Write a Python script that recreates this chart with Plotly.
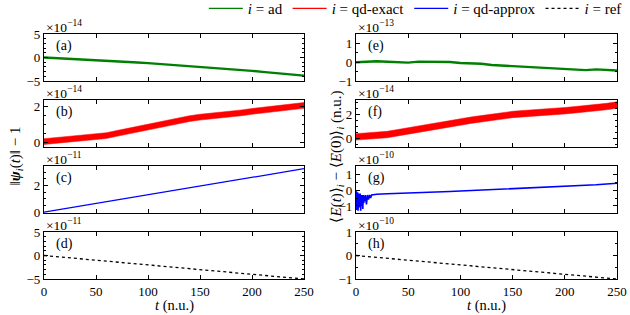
import plotly.graph_objects as go

# ---------------- data (values in units of the panel's x10^n factor) ----------------
t10 = [0, 10, 20, 30, 40, 50, 60, 70, 80, 90, 100, 110, 120, 130, 140, 150,
       160, 170, 180, 190, 200, 210, 220, 230, 240, 250]

# (a) norm error, i = ad  (x1e-14)
a_vals = [0.0, -0.1, -0.2, -0.3, -0.4, -0.5, -0.62, -0.75, -0.9, -1.05, -1.2,
          -1.35, -1.5, -1.65, -1.82, -2.0, -2.15, -2.32, -2.5, -2.68, -2.85,
          -3.05, -3.25, -3.45, -3.65, -3.85]
# (b) norm error, i = qd-exact (x1e-14): centre and noise half-width
b_vals = [0.05, 0.1, 0.15, 0.2, 0.25, 0.3, 0.38, 0.5, 0.62, 0.75, 0.88, 1.0,
          1.12, 1.22, 1.32, 1.4, 1.45, 1.5, 1.56, 1.64, 1.72, 1.78, 1.85, 1.9,
          1.97, 2.05]
b_half = 0.16
# (c) norm error, i = qd-approx (x1e-11)
c_t = [0, 250]
c_vals = [0.0, 3.25]
# (d) norm error, i = ref (x1e-11)
d_t = [0, 250]
d_vals = [0.0, -5.0]

# (e) energy error, i = ad (x1e-13)
e_vals = [0.0, 0.03, 0.05, 0.02, 0.0, -0.02, 0.03, 0.02, 0.0, 0.01, -0.04,
          -0.05, -0.08, -0.15, -0.18, -0.2, -0.24, -0.28, -0.3, -0.33, -0.35,
          -0.4, -0.42, -0.38, -0.42, -0.44]
# (f) energy error, i = qd-exact (x1e-14)
f_vals = [0.1, 0.15, 0.22, 0.3, 0.45, 0.6, 0.8, 0.95, 1.1, 1.25, 1.35, 1.5,
          1.62, 1.75, 1.88, 1.98, 2.05, 2.1, 2.15, 2.2, 2.3, 2.38, 2.45, 2.55,
          2.65, 2.78]
f_half = 0.27
# (g) energy error, i = qd-approx (x1e-10)
g_t = [0, 0.4, 0.8, 1.2, 1.6, 2.0, 2.4, 2.8, 3.2, 3.6, 4.0, 4.5, 5.0, 5.5,
       6.0, 6.5, 7.0, 7.5, 8.0, 8.5, 9.0, 10, 11, 12, 13, 14, 15, 20, 30, 40,
       50, 60, 70, 80, 90, 100, 110, 120, 130, 140, 150, 160, 170, 180, 190,
       200, 210, 220, 230, 240, 250]
g_vals = [0.0, -1.25, -0.1, -0.9, -0.15, -1.3, -0.2, -1.1, -0.25, -0.7, -0.2,
          -1.3, -0.3, -1.0, -0.3, -1.2, -0.3, -0.8, -0.35, -0.7, -0.3, -0.9,
          -0.3, -0.6, -0.3, -0.5, -0.3, -0.25, -0.22, -0.2, -0.2, -0.15, -0.12,
          -0.1, -0.08, -0.05, -0.02, 0.0, 0.03, 0.06, 0.1, 0.12, 0.15, 0.18,
          0.2, 0.25, 0.28, 0.3, 0.35, 0.4, 0.45]
# (h) energy error, i = ref (x1e-10)
h_t = [0, 250]
h_vals = [0.0, -1.0]

x_ticks = [0, 50, 100, 150, 200, 250]
legend_labels = ["<i>i</i> = ad", "<i>i</i> = qd-exact",
                 "<i>i</i> = qd-approx", "<i>i</i> = ref"]
panel_labels = ["(a)", "(b)", "(c)", "(d)", "(e)", "(f)", "(g)", "(h)"]
exponents = [-14, -14, -11, -11, -13, -14, -10, -10]

# ---------------- styling / layout ----------------
FONT = "Liberation Serif"
W, H = 630, 315
GREEN, RED, BLUE, BLACK = "#008000", "#ff0000", "#0000ff", "#000000"
col_px = [(44, 304), (356, 617)]
row_px = [(34, 81), (100, 147), (166, 213), (232, 279)]

# per panel: y range, major dtick, minor dtick
yspec = [
    ([-5, 5], 5, 1),
    ([-0.25, 2.35], 2, 0.5),
    ([-0.06, 3.45], 2, 0.5),
    ([-5, 5], 5, 1),
    ([-1, 1.5], 1, 0.5),
    ([-0.75, 3.2], 2, 0.5),
    ([-1.45, 1.55], 1, 0.5),
    ([-1, 1], 1, 0.5),
]

fig = go.Figure()
layout = {}
annotations = []
for k in range(8):
    col, row = divmod(k, 4)
    n = k + 1
    xs = "" if n == 1 else str(n)
    xd = [col_px[col][0] / W, col_px[col][1] / W]
    yd = [1 - row_px[row][1] / H, 1 - row_px[row][0] / H]
    yr, dt, mdt = yspec[k]
    layout["xaxis" + xs] = dict(
        domain=xd, anchor="y" + xs, range=[0, 250], tickvals=x_ticks,
        showticklabels=(row == 3), ticks="inside", ticklen=4, tickwidth=1,
        tickcolor="black", showline=True, linecolor="black", linewidth=1.2,
        mirror="allticks", showgrid=False, zeroline=False, automargin=False,
        tickfont=dict(family=FONT, size=13, color="black"),
    )
    layout["yaxis" + xs] = dict(
        domain=yd, anchor="x" + xs, range=yr, dtick=dt, tick0=0,
        ticks="inside", ticklen=4, tickwidth=1, tickcolor="black",
        showline=True, linecolor="black", linewidth=1.2, mirror="allticks",
        showgrid=False, zeroline=False, automargin=False,
        minor=dict(dtick=mdt, tick0=0, ticks="inside", ticklen=2,
                   tickcolor="black", showgrid=False),
        tickfont=dict(family=FONT, size=13, color="black"),
    )
    annotations.append(dict(
        xref="x" + xs + " domain", yref="y" + xs + " domain", x=0.04, y=0.95,
        xanchor="left", yanchor="top", text=panel_labels[k], showarrow=False,
        font=dict(family=FONT, size=14, color="black")))
    annotations.append(dict(
        xref="x" + xs + " domain", yref="y" + xs + " domain", x=0.0, y=1.0,
        xanchor="left", yanchor="bottom", yshift=-3,
        text="×10<sup>−%d</sup>" % abs(exponents[k]), showarrow=False,
        font=dict(family=FONT, size=13.5, color="black")))


def line(x, y, ax, color, width, dash="solid"):
    fig.add_trace(go.Scatter(x=x, y=y, xaxis="x" + ax, yaxis="y" + ax,
                             mode="lines", line=dict(color=color, width=width,
                                                     dash=dash),
                             showlegend=False, hoverinfo="skip"))


def band(x, centre, half, ax, color):
    hi = [v + half for v in centre]
    lo = [v - half for v in centre]
    fig.add_trace(go.Scatter(x=x, y=hi, xaxis="x" + ax, yaxis="y" + ax,
                             mode="lines", line=dict(color=color, width=0.5),
                             showlegend=False, hoverinfo="skip"))
    fig.add_trace(go.Scatter(x=x, y=lo, xaxis="x" + ax, yaxis="y" + ax,
                             mode="lines", line=dict(color=color, width=0.5),
                             fill="tonexty", fillcolor=color,
                             showlegend=False, hoverinfo="skip"))


# legend entries
for lab, colr, dash in zip(legend_labels, [GREEN, RED, BLUE, BLACK],
                           ["solid", "solid", "solid", "dot"]):
    fig.add_trace(go.Scatter(x=[None], y=[None], mode="lines", name=lab,
                             line=dict(color=colr, width=1.2, dash=dash)))

line(t10, a_vals, "", GREEN, 2.4)
band(t10, b_vals, b_half, "2", RED)
line(c_t, c_vals, "3", BLUE, 1.3)
line(d_t, d_vals, "4", BLACK, 1.3, "dot")
line(t10, e_vals, "5", GREEN, 2.4)
band(t10, f_vals, f_half, "6", RED)
line(g_t, g_vals, "7", BLUE, 1.6)
line(h_t, h_vals, "8", BLACK, 1.3, "dot")

# axis titles
annotations.append(dict(
    xref="paper", yref="paper", x=15 / W, y=1 - 156.5 / H, textangle=-90,
    xanchor="center", yanchor="middle",
    text="‖<b><i>ψ</i></b><sub><i>i</i></sub>(<i>t</i>)‖ − 1",
    showarrow=False, font=dict(family=FONT, size=15, color="black")))
annotations.append(dict(
    xref="paper", yref="paper", x=336 / W, y=1 - 156.5 / H, textangle=-90,
    xanchor="center", yanchor="middle",
    text="⟨<i>E</i>(<i>t</i>)⟩<sub><i>i</i></sub> − ⟨<i>E</i>(0)⟩<sub><i>i</i></sub> (n.u.)",
    showarrow=False, font=dict(family=FONT, size=15, color="black")))
for col in range(2):
    xc = (col_px[col][0] + col_px[col][1]) / 2 / W
    annotations.append(dict(
        xref="paper", yref="paper", x=xc, y=1 - 305.5 / H,
        xanchor="center", yanchor="middle", text="<i>t</i> (n.u.)",
        showarrow=False, font=dict(family=FONT, size=14.5, color="black")))

fig.update_layout(
    template="none",
    width=W, height=H, margin=dict(l=0, r=0, t=0, b=0, autoexpand=False),
    paper_bgcolor="white", plot_bgcolor="white",
    font=dict(family=FONT, size=13, color="black"),
    showlegend=True,
    legend=dict(orientation="h", x=0.995, xanchor="right", y=1.025,
                yanchor="top", bgcolor="rgba(0,0,0,0)", itemwidth=34,
                traceorder="normal",
                font=dict(family=FONT, size=15, color="black"),
                tracegroupgap=0),
    annotations=annotations,
    **layout,
)

fig.write_html("out.html", config={"displayModeBar": False},
               post_script="document.body.style.margin='0';"
                           "document.body.style.overflow='hidden';")
